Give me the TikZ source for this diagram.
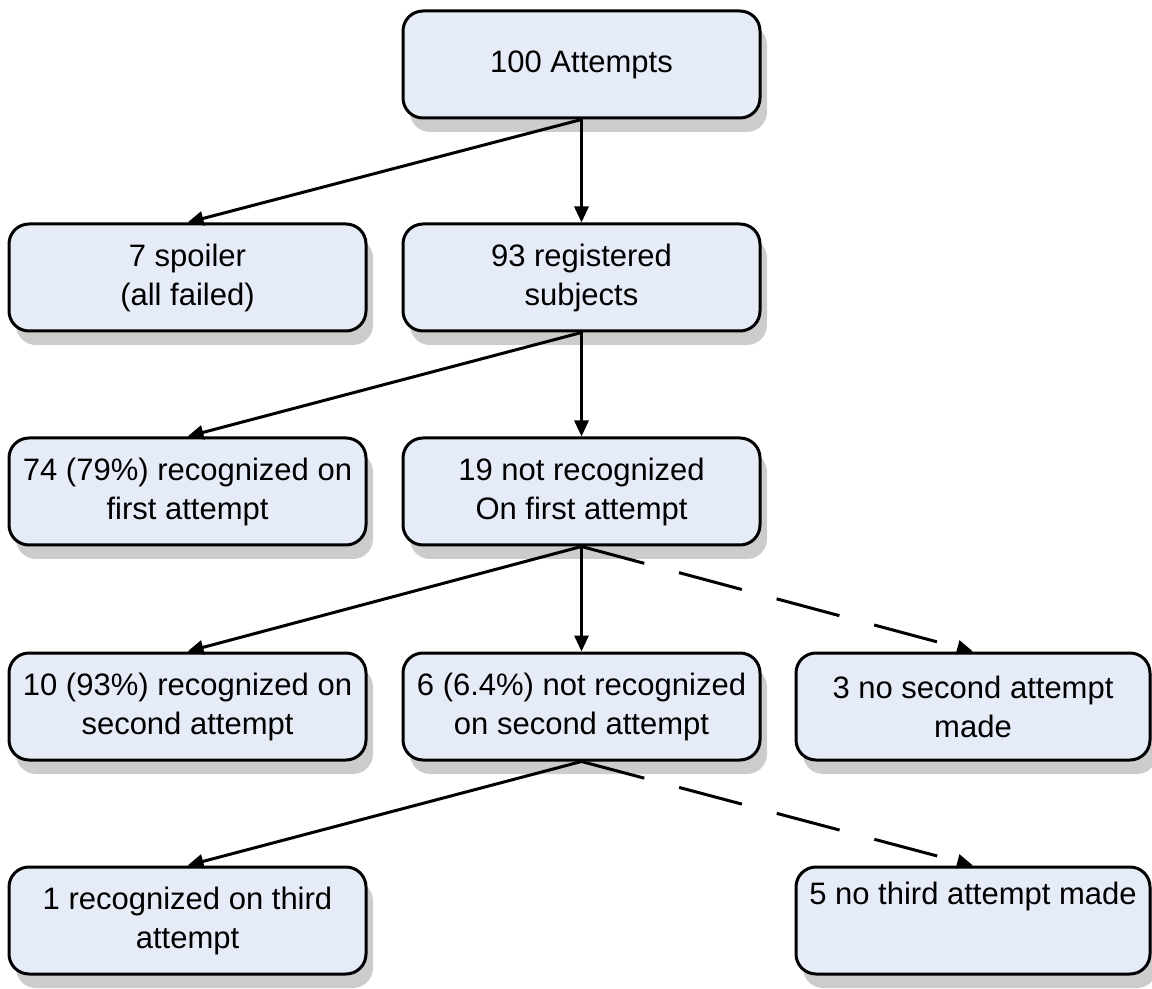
\documentclass[tikz,border=0pt]{standalone}
\usepackage{fontspec}
\setmainfont{Liberation Sans}
\usetikzlibrary{arrows.meta,shadows}
\definecolor{boxfill}{RGB}{230,236,247}
\definecolor{shadowgray}{RGB}{204,204,204}
\tikzset{
  flowbox/.style={draw=black, line width=1.5pt, fill=boxfill, rounded corners=10pt,
    minimum width=178.5pt, minimum height=53.5pt, inner sep=0pt, align=center,
    font=\fontsize{15.5}{19.5}\selectfont,
    drop shadow={shadow xshift=3.5pt, shadow yshift=-7pt, fill=shadowgray, opacity=1}},
  widebox/.style={flowbox, minimum width=177pt},
  arr/.style={line width=1.5pt, -{Triangle[length=8pt,width=7pt]}},
  darr/.style={arr, dash pattern=on 32.5pt off 18pt}
}
\begin{document}
\begin{tikzpicture}[x=0.5pt,y=-0.5pt]
\useasboundingbox (0,0) rectangle (1152,989);
\node[flowbox] (top) at (581.5,64.5) {100 Attempts};
\node[flowbox] (spoil) at (187.5,277.5) {7 spoiler\\(all failed)};
\node[flowbox] (reg) at (581.5,277.5) {93 registered\\subjects};
\node[flowbox] (rec1) at (187.5,491.5) {74 (79\%) recognized on\\first attempt};
\node[flowbox] (not1) at (581.5,491.5) {19 not recognized\\On first attempt};
\node[flowbox] (rec2) at (187.5,706.5) {10 (93\%) recognized on\\second attempt};
\node[flowbox] (not2) at (581.5,706.5) {6 (6.4\%) not recognized\\on second attempt};
\node[widebox] (no2) at (973,706.5) {3 no second attempt\\made};
\node[flowbox] (rec3) at (187.5,920.5) {1 recognized on third\\attempt};
\node[widebox] (no3) at (973,920.5) {5 no third attempt made\\[8pt]\mbox{}};
\draw[arr] (top.south) -- (spoil.north);
\draw[arr] (top.south) -- (reg.north);
\draw[arr] (reg.south) -- (rec1.north);
\draw[arr] (reg.south) -- (not1.north);
\draw[arr] (not1.south) -- (rec2.north);
\draw[arr] (not1.south) -- (not2.north);
\draw[darr] (not1.south) -- (no2.north);
\draw[arr] (not2.south) -- (rec3.north);
\draw[darr] (not2.south) -- (no3.north);
\end{tikzpicture}
\end{document}
